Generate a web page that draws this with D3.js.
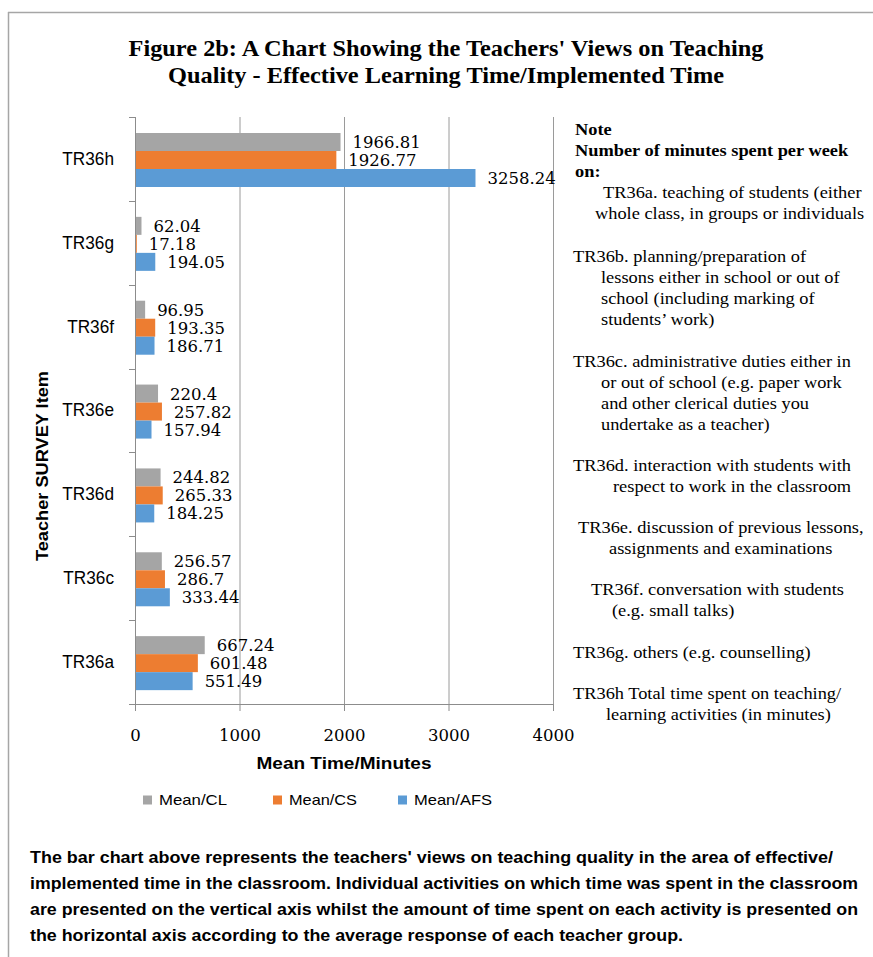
<!DOCTYPE html>
<html>
<head>
<meta charset="utf-8">
<script src="https://cdn.jsdelivr.net/npm/d3@7/dist/d3.min.js"></script>
<style>
  html, body { margin: 0; padding: 0; background: #ffffff; }
  svg { display: block; }
</style>
</head>
<body>
<svg id="chart" width="873" height="957"></svg>
<script>
// ---- data ----
const categories = ["TR36h", "TR36g", "TR36f", "TR36e", "TR36d", "TR36c", "TR36a"];
const seriesNames = ["Mean/CL", "Mean/CS", "Mean/AFS"];
const meanCL  = [1966.81, 62.04, 96.95, 220.4, 244.82, 256.57, 667.24];
const meanCS  = [1926.77, 17.18, 193.35, 257.82, 265.33, 286.7, 601.48];
const meanAFS = [3258.24, 194.05, 186.71, 157.94, 184.25, 333.44, 551.49];
const xTicks = [0, 1000, 2000, 3000, 4000];

const titleLines = [
  "Figure 2b: A Chart Showing the Teachers' Views on Teaching",
  "Quality - Effective Learning Time/Implemented Time"
];
const xTitle = "Mean Time/Minutes";
const yTitle = "Teacher SURVEY Item";

const noteLines = [
  "Note",
  "Number of minutes spent per week",
  "on:",
  "TR36a. teaching of students (either",
  "whole class, in groups or individuals",
  "TR36b. planning/preparation of",
  "lessons either in school or out of",
  "school (including marking of",
  "students\u2019 work)",
  "TR36c. administrative duties either in",
  "or out of school (e.g. paper work",
  "and other clerical duties you",
  "undertake as a teacher)",
  "TR36d. interaction with students with",
  "respect to work in the classroom",
  "TR36e. discussion of previous lessons,",
  "assignments and examinations",
  "TR36f. conversation with students",
  "(e.g. small talks)",
  "TR36g. others (e.g. counselling)",
  "TR36h Total time spent on teaching/",
  "learning activities (in minutes)"
];

const captionLines = [
  "The bar chart above represents the teachers' views on teaching quality in the area of effective/",
  "implemented time in the classroom. Individual activities on which time was spent in the classroom",
  "are presented on the vertical axis whilst the amount of time spent on each activity is presented on",
  "the  horizontal axis according to the average response of each teacher group."
];

// ---- layout ----
const colors = { "Mean/CL": "#a5a5a5", "Mean/CS": "#ed7d31", "Mean/AFS": "#5b9bd5" };
const seriesValues = { "Mean/CL": meanCL, "Mean/CS": meanCS, "Mean/AFS": meanAFS };
const plot = { left: 135, right: 553, top: 117, bottom: 704 };

const svg = d3.select("#chart");

// set an exact rendered width on a text element
function fitWidth(sel, w) {
  sel.attr("textLength", w).attr("lengthAdjust", "spacingAndGlyphs");
}
// stretch or squeeze text horizontally by factor k
function squeeze(sel, k) {
  sel.each(function () {
    const n = this.getComputedTextLength();
    d3.select(this).attr("textLength", n * k).attr("lengthAdjust", "spacingAndGlyphs");
  });
}

// frame lines
svg.append("line").attr("x1", 8.5).attr("x2", 8.5).attr("y1", 12).attr("y2", 957)
  .attr("stroke", "#a6a6a6").attr("stroke-width", 1.5);
svg.append("line").attr("x1", 8).attr("x2", 873).attr("y1", 12.5).attr("y2", 12.5)
  .attr("stroke", "#a6a6a6").attr("stroke-width", 1.5);

// title
const titleFont = "'Liberation Serif', 'Times New Roman', serif";
const titleWidths = [635, 556];
titleLines.forEach((t, i) => {
  svg.append("text")
    .attr("x", 446).attr("y", 56 + i * 27)
    .attr("text-anchor", "middle")
    .attr("font-family", titleFont).attr("font-weight", "bold").attr("font-size", 24)
    .attr("fill", "#000")
    .text(t)
    .call(fitWidth, titleWidths[i]);
});

// scales
const x = d3.scaleLinear().domain([0, 4000]).range([plot.left, plot.right]);
const y = d3.scaleBand().domain(categories).range([plot.top, plot.bottom]);
const inner = d3.scaleBand().domain(seriesNames).range([16, 70]);

// vertical gridlines and x axis ticks/labels
const xAxis = d3.axisBottom(x).tickValues(xTicks).tickSize(7).tickPadding(18)
  .tickFormat(d3.format("d"));
const gx = svg.append("g").attr("transform", `translate(0,${plot.bottom})`).call(xAxis);
gx.select(".domain").remove();
gx.selectAll(".tick line").attr("stroke", "#8c8c8c");
gx.selectAll(".tick text")
  .attr("font-family", "'DejaVu Serif', serif").attr("font-size", 16.5).attr("fill", "#000");

const grid = d3.axisBottom(x).tickValues(xTicks.slice(1)).tickSize(-(plot.bottom - plot.top)).tickFormat("");
const gg = svg.append("g").attr("transform", `translate(0,${plot.bottom})`).call(grid);
gg.select(".domain").remove();
gg.selectAll(".tick line").attr("stroke", "#9a9a9a");

// bars
const rows = [];
categories.forEach((c, i) => {
  seriesNames.forEach(s => rows.push({ cat: c, series: s, value: seriesValues[s][i] }));
});

svg.append("g").selectAll("rect").data(rows).join("rect")
  .attr("x", x(0))
  .attr("y", d => y(d.cat) + inner(d.series))
  .attr("width", d => x(d.value) - x(0))
  .attr("height", inner.bandwidth())
  .attr("fill", d => colors[d.series]);

// value labels
svg.append("g").selectAll("text").data(rows).join("text")
  .attr("x", d => x(d.value) + 12)
  .attr("y", d => y(d.cat) + inner(d.series) + inner.bandwidth() / 2)
  .attr("dy", "0.36em")
  .attr("font-family", "'DejaVu Serif', serif").attr("font-size", 16.5)
  .attr("fill", "#000")
  .text(d => String(d.value));

// y axis: line, boundary ticks and category labels
const yAxisG = svg.append("g");
yAxisG.append("line").attr("x1", plot.left + 0.5).attr("x2", plot.left + 0.5)
  .attr("y1", plot.top).attr("y2", plot.bottom + 7).attr("stroke", "#8c8c8c");
yAxisG.append("line").attr("x1", plot.left - 6).attr("x2", plot.right)
  .attr("y1", plot.bottom + 0.5).attr("y2", plot.bottom + 0.5).attr("stroke", "#8c8c8c");
const bounds = categories.map(c => y(c));
yAxisG.selectAll("line.bt").data(bounds).join("line").attr("class", "bt")
  .attr("x1", plot.left - 6).attr("x2", plot.left)
  .attr("y1", d => Math.round(d) + 0.5).attr("y2", d => Math.round(d) + 0.5)
  .attr("stroke", "#8c8c8c");

const yAxis = d3.axisLeft(y).tickSize(0).tickPadding(21);
const gy = svg.append("g").attr("transform", `translate(${plot.left},0)`).call(yAxis);
gy.select(".domain").remove();
gy.selectAll(".tick text")
  .attr("font-family", "'Liberation Sans', Arial, sans-serif").attr("font-size", 18.5)
  .attr("fill", "#000")
  .call(squeeze, 0.93);

// axis titles
svg.append("text")
  .attr("x", (plot.left + plot.right) / 2).attr("y", 769)
  .attr("text-anchor", "middle")
  .attr("font-family", "'Liberation Sans', Arial, sans-serif").attr("font-weight", "bold")
  .attr("font-size", 17).attr("fill", "#000")
  .text(xTitle).call(fitWidth, 175);

svg.append("text")
  .attr("transform", "translate(48,466) rotate(-90)")
  .attr("text-anchor", "middle")
  .attr("font-family", "'Liberation Sans', Arial, sans-serif").attr("font-weight", "bold")
  .attr("font-size", 17).attr("fill", "#000")
  .text(yTitle).call(fitWidth, 190);

// legend
const legendX = [143, 273, 398];
const lg = svg.append("g").selectAll("g").data(seriesNames).join("g")
  .attr("transform", (d, i) => `translate(${legendX[i]},800)`);
lg.append("rect").attr("x", 0).attr("y", -4.5).attr("width", 9).attr("height", 9)
  .attr("fill", d => colors[d]);
lg.append("text").attr("x", 16).attr("dy", "0.36em")
  .attr("font-family", "'Liberation Sans', Arial, sans-serif").attr("font-size", 15)
  .attr("fill", "#000").text(d => d)
  .each(function (d) { d3.select(this).attr("textLength", d === "Mean/AFS" ? 78 : 68).attr("lengthAdjust", "spacingAndGlyphs"); });

// note block
const noteIndent = [575, 575, 575, 603, 595, 573, 601, 601, 601, 573, 601, 601, 601,
  573, 613, 578, 609, 591, 612, 573, 573, 606];
const noteY = [130, 151, 172, 193, 214, 257, 278, 299, 320, 362, 383, 404, 425,
  466, 487, 528, 549, 590, 611, 653, 694, 715];
svg.append("g").selectAll("text").data(noteLines).join("text")
  .attr("x", (d, i) => noteIndent[i])
  .attr("y", (d, i) => noteY[i] + 5)
  .attr("font-family", titleFont)
  .attr("font-weight", (d, i) => i < 3 ? "bold" : "normal")
  .attr("font-size", 17).attr("fill", "#000")
  .text(d => d)
  .call(squeeze, 1.08);

// caption
const captionWidths = [803, 828, 828, 653];
svg.append("g").selectAll("text").data(captionLines).join("text")
  .attr("x", 30)
  .attr("y", (d, i) => 863 + i * 26)
  .attr("font-family", "'Liberation Sans', Arial, sans-serif").attr("font-weight", "bold")
  .attr("font-size", 16).attr("fill", "#000")
  .text(d => d)
  .each(function (d, i) { d3.select(this).attr("textLength", captionWidths[i]).attr("lengthAdjust", "spacingAndGlyphs"); });
</script>
</body>
</html>
